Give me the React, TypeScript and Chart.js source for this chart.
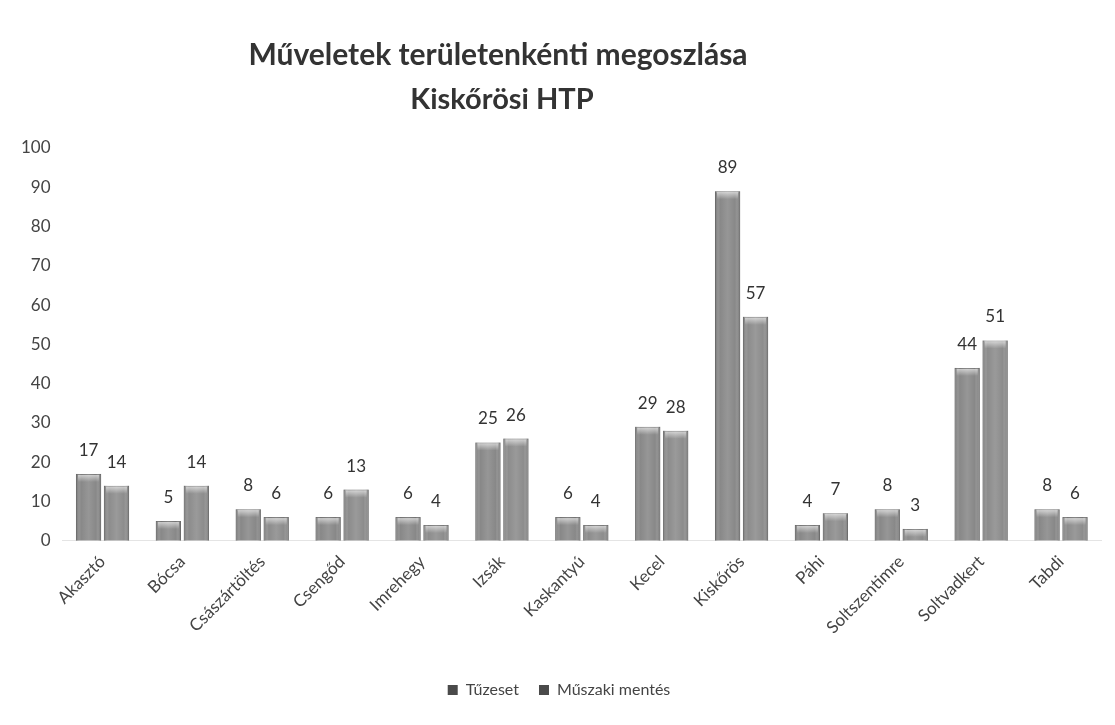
import React, { useEffect, useRef } from "react";
import { Chart, registerables } from "chart.js";

Chart.register(...registerables);

const categories = [
  "Akasztó", "Bócsa", "Császártöltés", "Csengőd", "Imrehegy", "Izsák", "Kaskantyú",
  "Kecel", "Kiskőrös", "Páhi", "Soltszentimre", "Soltvadkert", "Tabdi",
];
const tuzeset = [17, 5, 8, 6, 6, 25, 6, 29, 89, 4, 8, 44, 8];
const muszaki = [14, 14, 6, 13, 4, 26, 4, 28, 57, 7, 3, 51, 6];
const seriesNames = ["Tűzeset", "Műszaki mentés"];
const titleLines = ["Műveletek területenkénti megoszlása", "Kiskőrösi HTP"];

const FONT = "Lato, 'Open Sans', sans-serif";

const titlePlugin = {
  id: "customTitle",
  afterDraw(chart: any) {
    const ctx = chart.ctx;
    ctx.save();
    ctx.fillStyle = "#333";
    ctx.font = `bold 30px ${FONT}`;
    ctx.textAlign = "center";
    ctx.textBaseline = "middle";
    ctx.fillText(titleLines[0], 498, 55);
    ctx.font = `bold 29px ${FONT}`;
    ctx.fillText(titleLines[1], 502, 100);
    ctx.restore();
  },
};

const labelPlugin = {
  id: "barLabels",
  afterDatasetsDraw(chart: any) {
    const ctx = chart.ctx;
    ctx.save();
    ctx.fillStyle = "#333";
    ctx.font = `17px ${FONT}`;
    ctx.textAlign = "center";
    ctx.textBaseline = "bottom";
    chart.data.datasets.forEach((ds: any, i: number) => {
      const meta = chart.getDatasetMeta(i);
      meta.data.forEach((bar: any, j: number) => {
        ctx.fillText(String(ds.data[j]), bar.x, bar.y - 15);
      });
    });
    ctx.restore();
  },
};

const shadePlugin = {
  id: "barShade",
  afterDatasetsDraw(chart: any) {
    const ctx = chart.ctx;
    ctx.save();
    chart.data.datasets.forEach((_ds: any, i: number) => {
      const meta = chart.getDatasetMeta(i);
      meta.data.forEach((bar: any) => {
        const w = bar.width;
        const left = bar.x - w / 2;
        const top = bar.y;
        const h = bar.base - bar.y;
        const g = ctx.createLinearGradient(left, 0, left + w, 0);
        g.addColorStop(0, "rgba(80,80,80,0.5)");
        g.addColorStop(0.2, "rgba(255,255,255,0.0)");
        g.addColorStop(0.5, "rgba(255,255,255,0.12)");
        g.addColorStop(0.8, "rgba(255,255,255,0.0)");
        g.addColorStop(1, "rgba(80,80,80,0.5)");
        ctx.fillStyle = g;
        ctx.fillRect(left, top, w, h);
        const gt = ctx.createLinearGradient(0, top, 0, top + 8);
        gt.addColorStop(0, "rgba(255,255,255,0.65)");
        gt.addColorStop(1, "rgba(255,255,255,0)");
        ctx.fillStyle = gt;
        ctx.fillRect(left + 2, top + 1, w - 4, Math.min(8, h));
      });
    });
    ctx.restore();
  },
};

export default function App() {
  const ref = useRef<HTMLCanvasElement | null>(null);
  useEffect(() => {
    document.body.style.margin = "0";
    if (!ref.current) return;
    const chart = new Chart(ref.current, {
      type: "bar",
      data: {
        labels: categories,
        datasets: [
          {
            label: seriesNames[0],
            data: tuzeset,
            backgroundColor: "#888",
            borderColor: "#727272",
            borderWidth: 1,
            barPercentage: 0.9,
            categoryPercentage: 0.7,
          },
          {
            label: seriesNames[1],
            data: muszaki,
            backgroundColor: "#8c8c8c",
            borderColor: "#767676",
            borderWidth: 1,
            barPercentage: 0.9,
            categoryPercentage: 0.7,
          },
        ],
      },
      options: {
        responsive: false,
        animation: false,
        layout: { padding: { top: 148, left: 17, right: 14, bottom: 17 } },
        plugins: {
          title: { display: false },
          tooltip: { enabled: false },
          legend: {
            position: "bottom",
            title: { display: true, text: "", font: { size: 1 }, padding: 10 },
            labels: {
              boxWidth: 10,
              boxHeight: 10,
              color: "#444",
              font: { family: FONT, size: 16 },
              padding: 20,
              generateLabels: (chart: any) =>
                chart.data.datasets.map((ds: any, i: number) => ({
                  text: ds.label,
                  fillStyle: "#4a4a4a",
                  strokeStyle: "#4a4a4a",
                  lineWidth: 0,
                  datasetIndex: i,
                  fontColor: "#444",
                })),
            },
          },
        },
        scales: {
          x: {
            grid: { display: false },
            border: { display: true, color: "#e4e4e4" },
            ticks: {
              color: "#444",
              font: { family: FONT, size: 17 },
              minRotation: 45,
              maxRotation: 45,
              autoSkip: false,
            },
          },
          y: {
            min: 0,
            max: 100,
            grid: { display: false },
            border: { display: false },
            ticks: {
              stepSize: 10,
              color: "#444",
              padding: 4,
              font: { family: FONT, size: 17 },
            },
          },
        },
      },
      plugins: [shadePlugin, labelPlugin, titlePlugin],
    });
    return () => chart.destroy();
  }, []);
  return (
    <div style={{ width: 1115, height: 725, background: "#fff" }}>
      <canvas ref={ref} width={1115} height={725} />
    </div>
  );
}
